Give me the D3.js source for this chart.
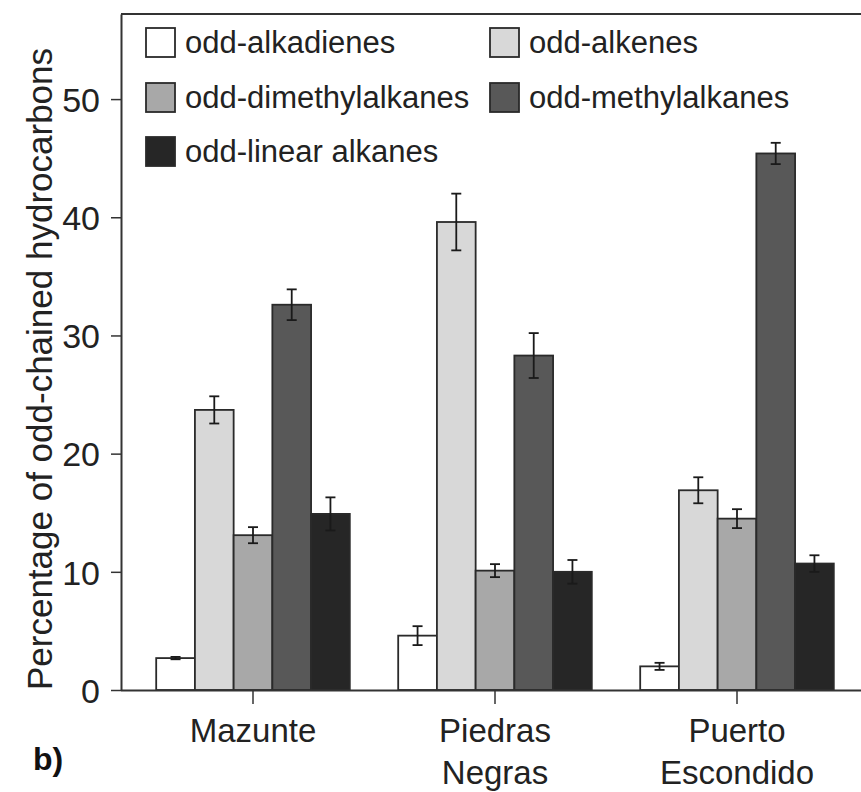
<!DOCTYPE html>
<html><head><meta charset="utf-8">
<script src="https://cdn.jsdelivr.net/npm/d3@7"></script>
<style>html,body{margin:0;padding:0;background:#fff;}svg{display:block;}</style>
</head><body>
<svg id="chart" width="861" height="792"></svg>
<script>
const categories = ["Mazunte", "Piedras Negras", "Puerto Escondido"];
const seriesNames = ["odd-alkadienes", "odd-alkenes", "odd-dimethylalkanes", "odd-methylalkanes", "odd-linear alkanes"];
const alkadienes = [2.7, 4.6, 2.0];
const alkenes = [23.7, 39.6, 16.9];
const dimethylalkanes = [13.1, 10.1, 14.5];
const methylalkanes = [32.6, 28.3, 45.4];
const linearAlkanes = [14.9, 10.0, 10.7];
const errAlkadienes = [0.1, 0.8, 0.3];
const errAlkenes = [1.15, 2.4, 1.1];
const errDimethyl = [0.68, 0.55, 0.8];
const errMethyl = [1.3, 1.9, 0.9];
const errLinear = [1.4, 1.0, 0.7];
const yTicks = [0, 10, 20, 30, 40, 50];
const colors = ["#ffffff", "#d8d8d8", "#a8a8a8", "#585858", "#262626"];

const values = [alkadienes, alkenes, dimethylalkanes, methylalkanes, linearAlkanes];
const errors = [errAlkadienes, errAlkenes, errDimethyl, errMethyl, errLinear];

const svg = d3.select("#chart");
const pLeft = 121, pRight = 861, pTop = 14, pBottom = 690;
const font = "'Liberation Sans', Arial, Helvetica, sans-serif";

const y = d3.scaleLinear().domain([0, 57.2]).range([pBottom, pTop]);
const x0 = d3.scaleBand().domain(categories).range([132, 858]).paddingInner(0.2).paddingOuter(0.1);
const x1 = d3.scaleBand().domain(seriesNames).range([0, x0.bandwidth()]).padding(0);

// bars
const data = [];
categories.forEach((c, ci) => seriesNames.forEach((s, si) => data.push({c, s, si, v: values[si][ci], e: errors[si][ci]})));

const g = svg.append("g");
g.selectAll("rect.bar").data(data).join("rect")
  .attr("class", "bar")
  .attr("x", d => x0(d.c) + x1(d.s))
  .attr("y", d => y(d.v))
  .attr("width", x1.bandwidth())
  .attr("height", d => y(0) - y(d.v))
  .attr("fill", d => colors[d.si])
  .attr("stroke", "#2a2a2a")
  .attr("stroke-width", 1.8);

// error bars
const eg = g.selectAll("g.err").data(data).join("g").attr("class", "err")
  .attr("stroke", "#1a1a1a").attr("stroke-width", 1.8);
eg.append("line")
  .attr("x1", d => x0(d.c) + x1(d.s) + x1.bandwidth() / 2)
  .attr("x2", d => x0(d.c) + x1(d.s) + x1.bandwidth() / 2)
  .attr("y1", d => y(d.v + d.e)).attr("y2", d => y(d.v - d.e));
[1, -1].forEach(sgn => {
  eg.append("line")
    .attr("x1", d => x0(d.c) + x1(d.s) + x1.bandwidth() / 2 - 5)
    .attr("x2", d => x0(d.c) + x1(d.s) + x1.bandwidth() / 2 + 5)
    .attr("y1", d => y(d.v + sgn * d.e)).attr("y2", d => y(d.v + sgn * d.e));
});

// frame line on top
svg.append("line").attr("x1", pLeft).attr("x2", pRight).attr("y1", pTop).attr("y2", pTop)
  .attr("stroke", "#333").attr("stroke-width", 2);

// y axis
const yAxis = svg.append("g").attr("transform", `translate(${pLeft},0)`)
  .call(d3.axisLeft(y).tickValues(yTicks).tickSize(10).tickPadding(11).tickSizeOuter(0));
yAxis.select(".domain").attr("stroke", "#333").attr("stroke-width", 2);
yAxis.selectAll(".tick line").attr("stroke", "#333").attr("stroke-width", 1.5);
yAxis.selectAll(".tick text").attr("font-family", font).attr("font-size", 34).attr("fill", "#222")
  .attr("dy", "0.36em");

// x axis
const xAxis = svg.append("g").attr("transform", `translate(0,${pBottom})`)
  .call(d3.axisBottom(x0).tickSize(14).tickSizeOuter(0).tickFormat(""));
xAxis.select(".domain").attr("d", `M${pLeft},0.5H${pRight}`).attr("stroke", "#333").attr("stroke-width", 2);
xAxis.selectAll(".tick line").attr("stroke", "#333").attr("stroke-width", 1.5);
xAxis.selectAll(".tick").each(function(d) {
  const lines = d.split(" ");
  const t = d3.select(this).append("text")
    .attr("font-family", font).attr("font-size", 33).attr("fill", "#222")
    .attr("text-anchor", "middle");
  lines.forEach((ln, i) => t.append("tspan").attr("x", 0).attr("y", 52 + i * 42).text(ln));
});

// y title
svg.append("text")
  .attr("transform", `translate(52,${(pTop + pBottom) / 2 + 17}) rotate(-90)`)
  .attr("text-anchor", "middle")
  .attr("font-family", font).attr("font-size", 35).attr("fill", "#222")
  .text("Percentage of odd-chained hydrocarbons");

// b) label
svg.append("text").attr("x", 33).attr("y", 770)
  .attr("font-family", font).attr("font-size", 32).attr("font-weight", "bold").attr("fill", "#111")
  .text("b)");

// legend
const legendPos = [[146, 28], [490, 28], [146, 83], [490, 83], [146, 137]];
const lg = svg.append("g").selectAll("g").data(seriesNames).join("g")
  .attr("transform", (d, i) => `translate(${legendPos[i][0]},${legendPos[i][1]})`);
lg.append("rect").attr("width", 29).attr("height", 29)
  .attr("fill", (d, i) => colors[i]).attr("stroke", "#2a2a2a").attr("stroke-width", 1.8);
lg.append("text").attr("x", 39).attr("y", 25)
  .attr("font-family", font).attr("font-size", 31).attr("fill", "#222")
  .text(d => d);
</script>
</body></html>
